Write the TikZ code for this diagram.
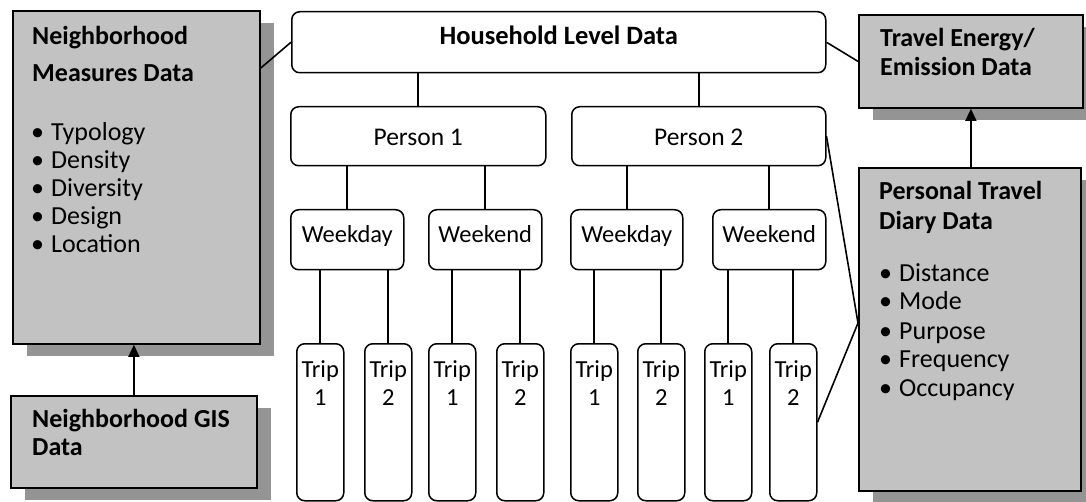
\documentclass[tikz,border=0pt]{standalone}
\usepackage{fontspec}
\setmainfont{Carlito}
\usetikzlibrary{shadows,arrows.meta,calc}
\definecolor{panelgray}{RGB}{194,194,194}
\definecolor{shadegray}{RGB}{148,148,148}
\begin{document}
\begin{tikzpicture}[x=1pt,y=-1pt,
  panel/.style={draw=black, line width=1.8pt, fill=panelgray, anchor=north west,
    inner sep=0pt, drop shadow={shadow xshift=14pt, shadow yshift=-12pt,
    fill=shadegray, opacity=1}},
  rbox/.style={draw=black, line width=1.5pt, fill=white, rounded corners=8pt,
    anchor=north west, inner sep=0pt},
  tripbox/.style={rbox, minimum width=47pt, minimum height=157pt},
  daybox/.style={rbox, minimum width=113pt, minimum height=60pt},
  link/.style={draw=black, line width=1.6pt},
  arrow/.style={link, -{Triangle[length=12pt,width=11pt]}},
  hdr/.style={anchor=base west, inner sep=0pt, font=\fontsize{26}{30}\selectfont\bfseries},
  item/.style={anchor=base west, inner sep=0pt, font=\fontsize{26}{30}\selectfont},
  lbl/.style={anchor=base, inner sep=0pt, font=\fontsize{25.5}{30}\selectfont},
  small/.style={anchor=base, inner sep=0pt, font=\fontsize{24.5}{28}\selectfont}]
\useasboundingbox (0,0) rectangle (1086,502);
\newcommand{\bul}[1]{\makebox[20pt][l]{•}#1}

% side panels
\node[panel, minimum width=247pt, minimum height=333pt] (nm) at (12,10) {};
\node[panel, minimum width=246pt, minimum height=92pt] (gis) at (10,395) {};
\node[panel, minimum width=224pt, minimum height=93pt] (te) at (858,14) {};
\node[panel, minimum width=222pt, minimum height=323pt] (pt) at (858,167) {};

\node[hdr] (nmh1) at (32,45) {Neighborhood};
\node[hdr] (nmh2) at (32,82) {Measures Data};
\node[item] (nmi1) at (31,141) {\bul{Typology}};
\node[item] (nmi2) at (31,169) {\bul{Density}};
\node[item] (nmi3) at (31,197) {\bul{Diversity}};
\node[item] (nmi4) at (31,225) {\bul{Design}};
\node[item] (nmi5) at (31,253) {\bul{Location}};

\node[hdr] (gish1) at (32,427) {Neighborhood GIS};
\node[hdr] (gish2) at (32,455) {Data};

\node[hdr] (teh1) at (880,47) {Travel Energy/};
\node[hdr] (teh2) at (880,76) {Emission Data};

\node[hdr] (pth1) at (879,200) {Personal Travel};
\node[hdr] (pth2) at (879,230) {Diary Data};
\node[item] (pti1) at (879,282) {\bul{Distance}};
\node[item] (pti2) at (879,310) {\bul{Mode}};
\node[item] (pti3) at (879,339) {\bul{Purpose}};
\node[item] (pti4) at (879,367) {\bul{Frequency}};
\node[item] (pti5) at (879,396) {\bul{Occupancy}};

% household tree
\node[rbox, minimum width=534pt, minimum height=61pt] (hh) at (291,11) {};
\node[lbl, font=\fontsize{26.5}{30}\selectfont\bfseries] (hht) at ($(hh.north)+(0,34)$) {Household Level Data};

\node[rbox, minimum width=255pt, minimum height=59pt] (p1) at (290,106) {};
\node[rbox, minimum width=254pt, minimum height=59pt] (p2) at (571,106) {};
\node[lbl] (p1t) at ($(p1.north)+(0,40)$) {Person 1};
\node[lbl] (p2t) at ($(p2.north)+(0,40)$) {Person 2};

\node[daybox] (d1) at (290,209) {};
\node[daybox] (d2) at (428,209) {};
\node[daybox, minimum width=112pt] (d3) at (570,209) {};
\node[daybox] (d4) at (712,209) {};
\node[small] (d1t) at ($(d1.north)+(0,34)$) {Weekday};
\node[small] (d2t) at ($(d2.north)+(0,34)$) {Weekend};
\node[small] (d3t) at ($(d3.north)+(0,34)$) {Weekday};
\node[small] (d4t) at ($(d4.north)+(0,34)$) {Weekend};

\foreach \i/\x/\n in {1/296/1, 2/364/2, 3/428/1, 4/496/2, 5/570/1, 6/637/2, 7/704/1, 8/769/2} {
  \node[tripbox] (t\i) at (\x,343) {};
  \node[small] (t\i a) at ($(t\i.north)+(0,34)$) {Trip};
  \node[small] (t\i b) at ($(t\i.north)+(0,62)$) {\n};
}

% tree links
\draw[link] (p1.north) -- (p1.north |- hh.south);
\draw[link] (p2.north) -- (p2.north |- hh.south);
\draw[link] (d1.north) -- (d1.north |- p1.south);
\draw[link] (d2.north) -- (d2.north |- p1.south);
\draw[link] (d3.north) -- (d3.north |- p2.south);
\draw[link] (d4.north) -- (d4.north |- p2.south);
\draw[link] (t1.north) -- (t1.north |- d1.south);
\draw[link] (t2.north) -- (t2.north |- d1.south);
\draw[link] (t3.north) -- (t3.north |- d2.south);
\draw[link] (t4.north) -- (t4.north |- d2.south);
\draw[link] (t5.north) -- (t5.north |- d3.south);
\draw[link] (t6.north) -- (t6.north |- d3.south);
\draw[link] (t7.north) -- (t7.north |- d4.south);
\draw[link] (t8.north) -- (t8.north |- d4.south);

% cross links
\coordinate (nmE) at ($(nm.north east)+(0,58)$);
\coordinate (ptW) at ($(pt.north west)+(0,156)$);
\draw[link] (nmE) -- (hh.west);
\draw[link] (hh.east) -- (te.west);
\draw[link] (p2.east) -- (ptW);
\draw[link] (t8.east) -- (ptW);

% arrows
\draw[arrow] (gis.north) -- (gis.north |- nm.south);
\draw[arrow] (te.south |- pt.north) -- (te.south);
\end{tikzpicture}
\end{document}
